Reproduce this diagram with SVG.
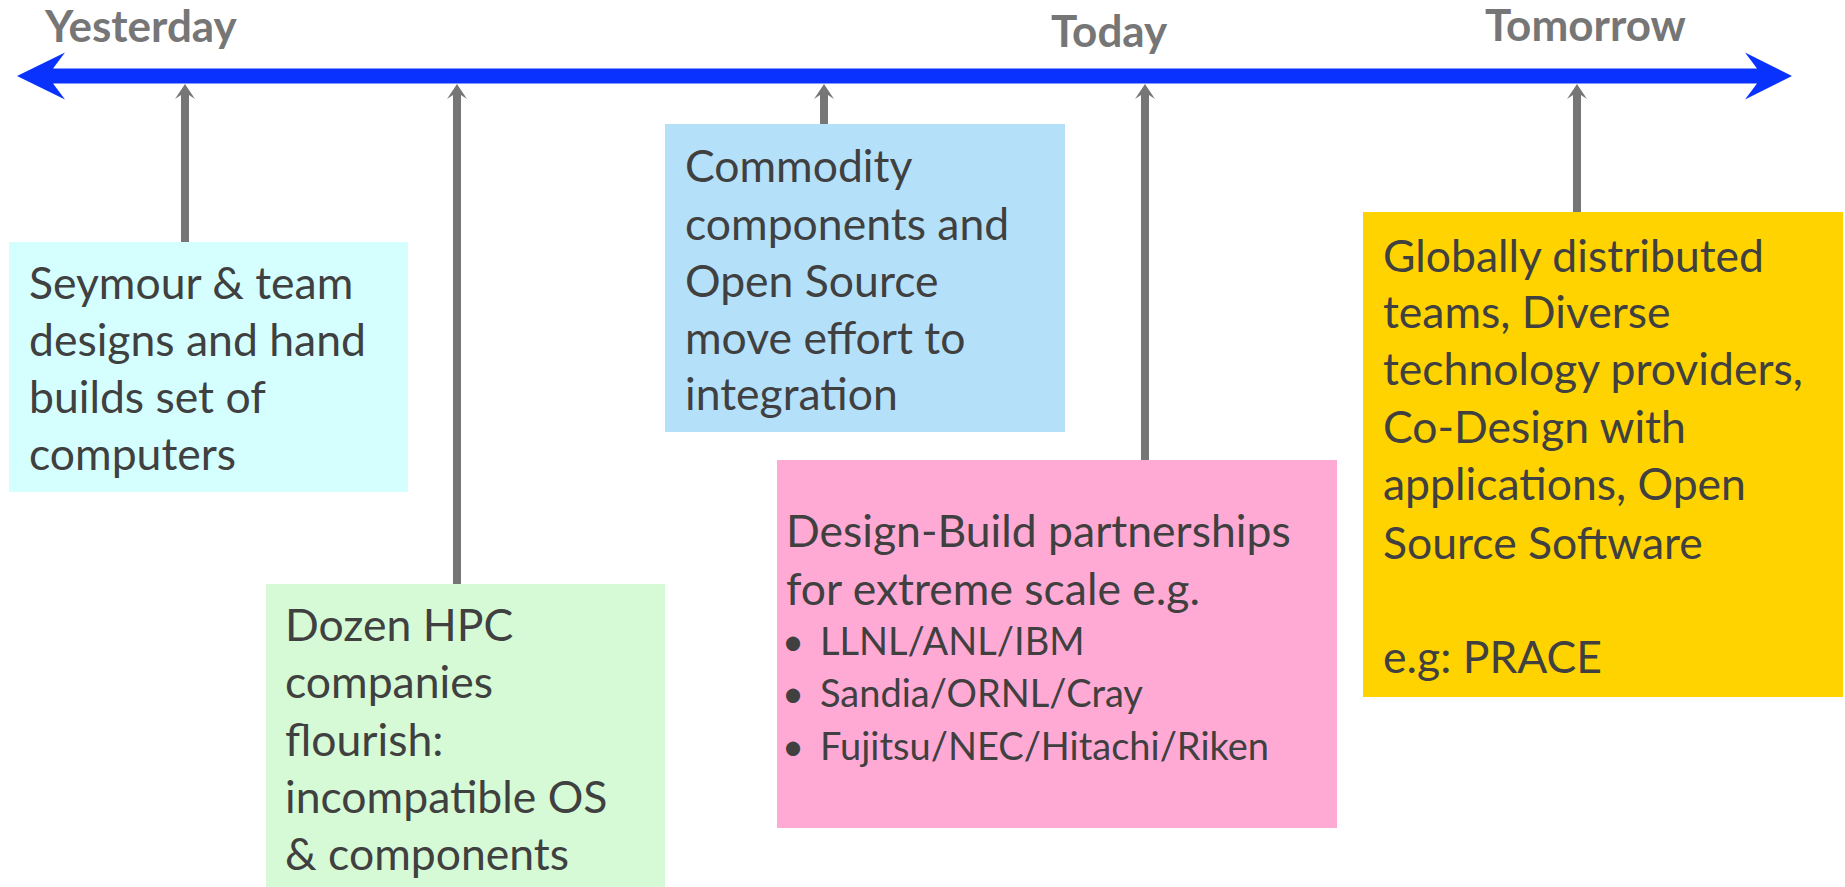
<svg xmlns="http://www.w3.org/2000/svg" width="1845" height="887" viewBox="0 0 1845 887">
<style>
.t{font-family:Lato,"Liberation Sans",sans-serif;font-size:44.5px;fill:#404040}
.s{font-family:Lato,"Liberation Sans",sans-serif;font-size:38px;fill:#404040}
.h{font-family:Lato,"Liberation Sans",sans-serif;font-size:44px;font-weight:bold;fill:#767676}
.c{fill:#767676}
</style>
<rect width="1845" height="887" fill="#ffffff"/>
<g id="axis">
<polygon points="17,76 65,52.5 53,68.5 1757,68.5 1745,52.5 1792,76 1745,99.5 1757,83.5 53,83.5 65,99.5" fill="#0A32FF"/>
<text class="h" x="45" y="42">Yesterday</text>
<text class="h" x="1051" y="47">Today</text>
<text class="h" x="1485" y="41">Tomorrow</text>
</g>
<g id="connectors">
<polygon class="c" points="185,84 195,99 189,95 189,242 181,242 181,95 175,99"/>
<polygon class="c" points="457,84 467,99 461,95 461,584 453,584 453,95 447,99"/>
<polygon class="c" points="824,84 834,99 828,95 828,124 820,124 820,95 814,99"/>
<polygon class="c" points="1145,84 1155,99 1149,95 1149,460 1141,460 1141,95 1135,99"/>
<polygon class="c" points="1577,84 1587,99 1581,95 1581,212 1573,212 1573,95 1567,99"/>
</g>
<g id="yesterday-node">
<rect x="9" y="242" width="399" height="250" fill="#D5FFFF"/>
<text class="t" x="29" y="299">Seymour &amp; team</text>
<text class="t" x="29" y="356">designs and hand</text>
<text class="t" x="29" y="413">builds set of</text>
<text class="t" x="29" y="470">computers</text>
</g>
<g id="dozen-node">
<rect x="266" y="584" width="399" height="303" fill="#D5FAD5"/>
<text class="t" x="285" y="641">Dozen HPC</text>
<text class="t" x="285" y="698">companies</text>
<text class="t" x="285" y="756">flourish:</text>
<text class="t" x="285" y="813">incompatible OS</text>
<text class="t" x="285" y="870">&amp; components</text>
</g>
<g id="commodity-node">
<rect x="665" y="124" width="400" height="308" fill="#B5E0FA"/>
<text class="t" x="685" y="182">Commodity</text>
<text class="t" x="685" y="240">components and</text>
<text class="t" x="685" y="297">Open Source</text>
<text class="t" x="685" y="354">move effort to</text>
<text class="t" x="685" y="410">integration</text>
</g>
<g id="today-node">
<rect x="777" y="460" width="560" height="368" fill="#FFAAD5"/>
<text class="t" x="786" y="547">Design-Build partnerships</text>
<text class="t" x="786" y="605">for extreme scale e.g.</text>
<text class="s" x="782" y="655">•</text>
<text class="s" x="820" y="655">LLNL/ANL/IBM</text>
<text class="s" x="782" y="707">•</text>
<text class="s" x="820" y="707">Sandia/ORNL/Cray</text>
<text class="s" x="782" y="760">•</text>
<text class="s" x="820" y="760">Fujitsu/NEC/Hitachi/Riken</text>
</g>
<g id="tomorrow-node">
<rect x="1363" y="212" width="480" height="485" fill="#FFD300"/>
<text class="t" x="1383" y="272">Globally distributed</text>
<text class="t" x="1383" y="328">teams, Diverse</text>
<text class="t" x="1383" y="385">technology providers,</text>
<text class="t" x="1383" y="443">Co-Design with</text>
<text class="t" x="1383" y="500">applications, Open</text>
<text class="t" x="1383" y="559">Source Software</text>
<text class="t" x="1383" y="673">e.g: PRACE</text>
</g>
</svg>
